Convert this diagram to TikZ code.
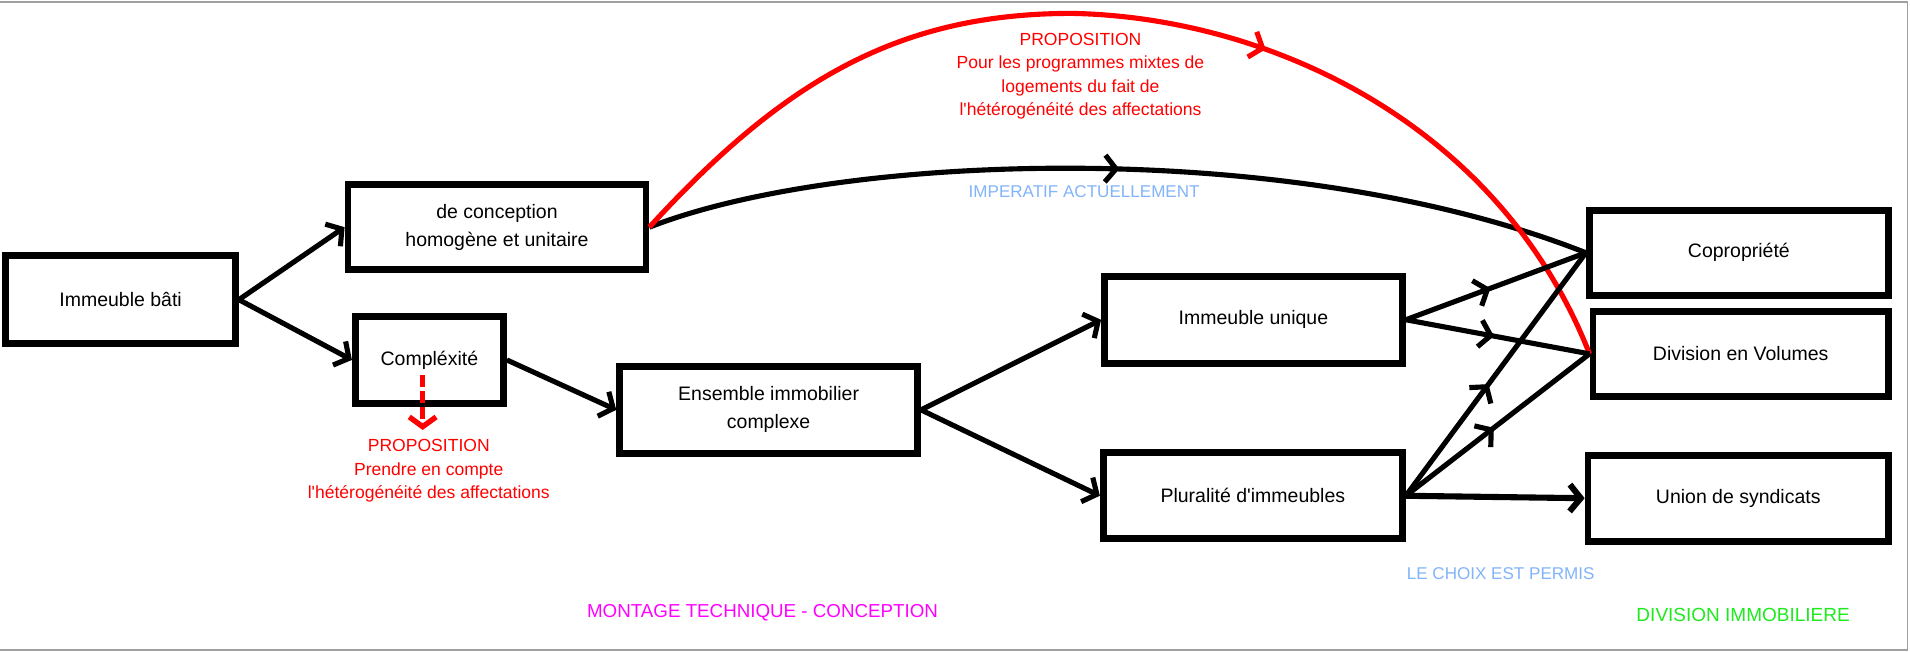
\documentclass[tikz,border=0pt]{standalone}
\usepackage{fontspec}
\setmainfont{Liberation Sans}[Ligatures=TeXOff]
\usetikzlibrary{arrows.meta,decorations.markings}
\definecolor{lblue}{RGB}{130,180,250}
\definecolor{lgreen}{RGB}{30,235,30}
\definecolor{magentac}{RGB}{255,0,255}
\definecolor{frame}{RGB}{160,160,160}
\begin{document}
\begin{tikzpicture}[x=0.5pt,y=-0.5pt,
  box/.style={draw,line width=2.8pt,inner sep=0pt,align=center,
    font=\fontsize{8}{11.5}\selectfont},
  conn/.style={line width=2.1pt},
  barb/.style={-{Straight Barb[length=4.5pt,width=11pt]}},
  midarrow/.style={postaction={decorate},decoration={markings,
    mark=at position #1 with {\arrow{Straight Barb[length=4.5pt,width=11pt]}}}},
  redtxt/.style={text=red,align=center,inner sep=0pt,font=\fontsize{7.2}{9.6}\selectfont},
  lbl/.style={inner sep=0pt,font=\fontsize{#1}{#1}\selectfont}]
\useasboundingbox (0,0) rectangle (1568,535);
\fill[white] (0,0) rectangle (1568,535);
\draw[frame,line width=0.6pt] (0,1.5) -- (1566,1.5) -- (1566,533.5) -- (0,533.5);

% boxes
\node[box,minimum width=94.3pt,minimum height=36.3pt] (ib) at (99,246) {Immeuble b\^ati};
\node[box,minimum width=122.3pt,minimum height=34.8pt] (dc) at (408,186.5) {de conception\\homog\`ene et unitaire};
\node[box,minimum width=60.8pt,minimum height=35.8pt] (cx) at (352.5,295.5) {Compl\'exit\'e};
\node[box,minimum width=122.3pt,minimum height=35.8pt] (en) at (631,336.5) {Ensemble immobilier\\complexe};
\node[box,minimum width=122.3pt,minimum height=35.8pt] (iu) at (1029,262.5) {Immeuble unique};
\node[box,minimum width=122.8pt,minimum height=35.3pt] (pl) at (1028.5,407) {Pluralit\'e d'immeubles};
\node[box,minimum width=122.8pt,minimum height=34.8pt] (cop) at (1427.5,207.5) {Copropri\'et\'e};
\node[box,minimum width=121.3pt,minimum height=34.8pt] (div) at (1429,290.5) {Division en Volumes};
\node[box,minimum width=123.3pt,minimum height=35.3pt] (un) at (1427,409) {Union de syndicats};

% texts
\node[redtxt] (prop1) at (887,62.5) {PROPOSITION\\Pour les programmes mixtes de\\logements du fait de\\l'h\'et\'erog\'en\'eit\'e des affectations};
\node[lbl=7,text=lblue] (imp) at (890,157) {IMPERATIF ACTUELLEMENT};
\node[redtxt] (prop2) at (352,386.5) {PROPOSITION\\Prendre en compte\\l'h\'et\'erog\'en\'eit\'e des affectations};
\node[lbl=7.7,text=magentac] (mt) at (626,503) {MONTAGE TECHNIQUE - CONCEPTION};
\node[lbl=7,text=lblue] (choix) at (1232,471) {LE CHOIX EST PERMIS};
\node[lbl=7.8,text=lgreen] (divimm) at (1431,505) {DIVISION IMMOBILIERE};

% connectors left part
\draw[conn,barb] (ib.east) -- (dc.west);
\draw[conn,barb] (ib.east) -- (cx.west);
\draw[conn,barb] (cx.east) -- (en.west);
\draw[conn,barb] (en.east) -- (iu.west);
\draw[conn,barb] (en.east) -- (pl.west);

% curves
\draw[line width=2.1pt,midarrow=0.5] (dc.east) .. controls (690,125) and (1060,112) .. (cop.west);
\draw[red,line width=2.1pt,midarrow=0.6] (dc.east) .. controls (645,64) and (740,11) .. (880,11)
  .. controls (1040,14) and (1230,100) .. (div.west);

% right part
\draw[conn,midarrow=0.47] (iu.east) -- (cop.west);
\draw[conn,midarrow=0.48] (iu.east) -- (div.west);
\draw[conn,midarrow=0.46] (pl.east) -- (cop.west);
\draw[conn,midarrow=0.48] (pl.east) -- (div.west);
\draw[line width=2.5pt,barb] (pl.east) -- (un.west);

% dashed red arrow
\coordinate (dstart) at (347,308);
\coordinate (dend) at (347,353);
\draw[red,line width=2.2pt,dash pattern=on 5pt off 1.5pt,-{Straight Barb[length=4pt,width=11pt]}] (dstart) -- (dend);
\end{tikzpicture}
\end{document}
